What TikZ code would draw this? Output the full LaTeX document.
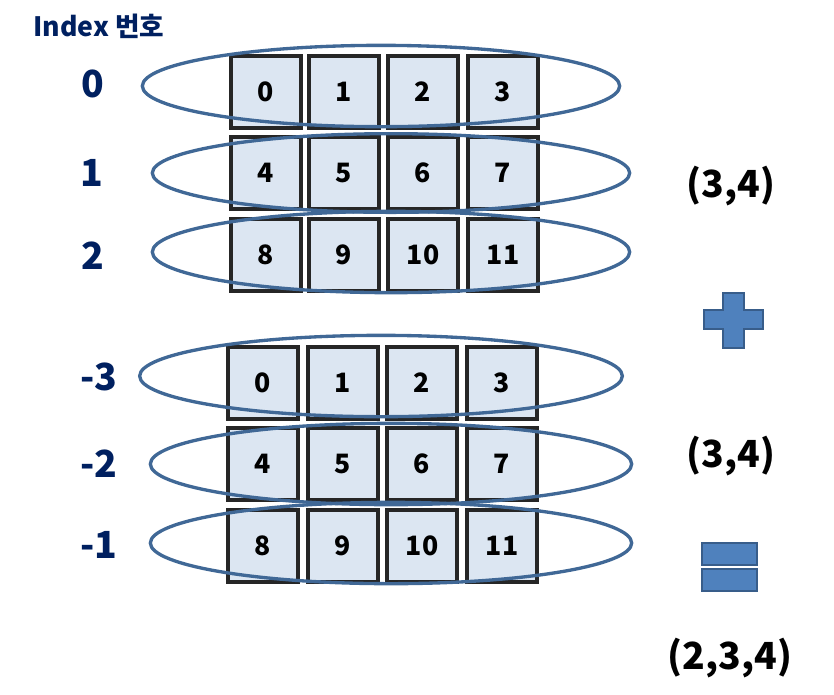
\documentclass[tikz,border=0pt]{standalone}
\usepackage{fontspec}
\setmainfont{Noto Sans CJK KR}
\usepackage{tikz}
\usetikzlibrary{shapes}
\definecolor{cellfill}{RGB}{220,230,242}
\definecolor{cellline}{RGB}{38,38,38}
\definecolor{ringblue}{RGB}{64,104,150}
\definecolor{idxnavy}{RGB}{0,32,96}
\definecolor{signfill}{RGB}{79,129,189}
\definecolor{signline}{RGB}{56,93,138}

\begin{document}
\begin{tikzpicture}[x=0.75pt,y=-0.75pt]
                    \tikzstyle{every node}+=[inner sep=0pt]
                    \tikzstyle{cell}=[draw=cellline, fill=cellfill, line width=2.8pt, minimum width=52.5pt, minimum height=53.5pt, font=\bfseries\fontsize{20}{24}\selectfont]
                    \tikzstyle{ring}=[draw=ringblue, line width=2.5pt, ellipse, minimum width=358pt, minimum height=61pt]
                    \tikzstyle{idx}=[text=idxnavy, font=\bfseries\fontsize{28}{32}\selectfont]
                    \tikzstyle{dims}=[font=\bfseries\fontsize{28}{32}\selectfont]
                    \tikzstyle{sign}=[draw=signline, fill=signfill, line width=1.8pt]
                    \useasboundingbox (0,0) rectangle (834,694);
                    \node [text=idxnavy, font=\bfseries\fontsize{20}{24}\selectfont] (title) at (99,26) {Index 번호};
                    % upper array, rows 0 1 2
                    \node [cell] (a0) at (266,92) {0};
                    \node [cell] (a1) at (344,92) {1};
                    \node [cell] (a2) at (423,92) {2};
                    \node [cell] (a3) at (503,92) {3};
                    \node [cell] (a4) at (266,173) {4};
                    \node [cell] (a5) at (344,173) {5};
                    \node [cell] (a6) at (423,173) {6};
                    \node [cell] (a7) at (503,173) {7};
                    \node [cell] (a8) at (266,255) {8};
                    \node [cell] (a9) at (344,255) {9};
                    \node [cell] (a10) at (423,255) {10};
                    \node [cell] (a11) at (503,255) {11};
                    \node [ring] (ra0) at (381,86) {};
                    \node [ring, minimum height=59pt] (ra1) at (391,173) {};
                    \node [ring] (ra2) at (391,252) {};
                    \node [idx] (ia0) at (93,84) {0};
                    \node [idx] (ia1) at (92,173) {1};
                    \node [idx] (ia2) at (93,256) {2};
                    % lower array, rows -3 -2 -1
                    \node [cell] (b0) at (263,383) {0};
                    \node [cell] (b1) at (343,383) {1};
                    \node [cell] (b2) at (422,383) {2};
                    \node [cell] (b3) at (502,383) {3};
                    \node [cell] (b4) at (263,464) {4};
                    \node [cell] (b5) at (343,464) {5};
                    \node [cell] (b6) at (422,464) {6};
                    \node [cell] (b7) at (502,464) {7};
                    \node [cell] (b8) at (263,546) {8};
                    \node [cell] (b9) at (343,546) {9};
                    \node [cell] (b10) at (422,546) {10};
                    \node [cell] (b11) at (502,546) {11};
                    \node [ring, minimum width=362pt] (rb0) at (381,376) {};
                    \node [ring, minimum width=361pt] (rb1) at (391,464) {};
                    \node [ring, minimum width=361pt] (rb2) at (391,543) {};
                    \node [idx] (ib0) at (99,377) {-3};
                    \node [idx] (ib1) at (99,464) {-2};
                    \node [idx] (ib2) at (99,545) {-1};
                    % shapes and signs
                    \node [dims] (sa) at (731,186) {(3,4)};
                    \draw [sign] (723,293) -- (744,293) -- (744,310) -- (763,310) -- (763,329) -- (744,329) -- (744,348) -- (723,348) -- (723,329) -- (704,329) -- (704,310) -- (723,310) -- cycle;
                    \node [dims] (sb) at (731,456) {(3,4)};
                    \draw [sign] (702,543) rectangle (757,565);
                    \draw [sign] (702,569) rectangle (757,591);
                    \node [dims] (sc) at (730,658) {(2,3,4)};
                \end{tikzpicture}
\end{document}
